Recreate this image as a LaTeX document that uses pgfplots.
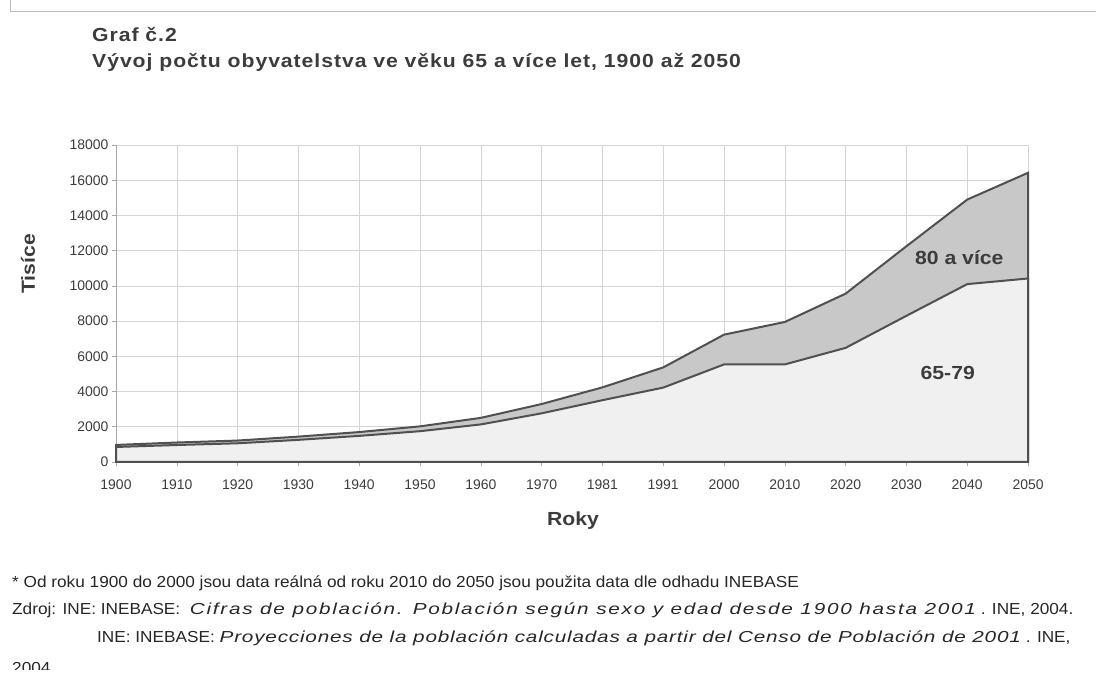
\documentclass[border=0pt]{standalone}
\usepackage{fontspec}
\setmainfont{Liberation Sans}
\newfontfamily\titlefont[FakeStretch=1.12,LetterSpace=5]{Liberation Sans Bold}
\newfontfamily\labfont[FakeStretch=1.12]{Liberation Sans Bold}
\newfontfamily\footfont[FakeStretch=1.08]{Liberation Sans}
\newfontfamily\footit[FakeStretch=1.3,LetterSpace=11]{Liberation Sans Italic}
\newfontfamily\footitb[FakeStretch=1.3,LetterSpace=5]{Liberation Sans Italic}
\usepackage{pgfplots}
\pgfplotsset{compat=1.18}
\definecolor{txtgray}{RGB}{60,60,60}
\definecolor{linegray}{RGB}{80,80,80}
\definecolor{bandgray}{RGB}{200,200,200}
\definecolor{lightfill}{RGB}{240,240,240}
\definecolor{gridgray}{RGB}{212,212,212}
\definecolor{framegray}{RGB}{190,190,190}

% 65+ total and 65-79 (thousands); x = category index
\pgfplotstableread{
x  total  young
0  968    853
1  1106   964
2  1217   1062
3  1441   1258
4  1700   1483
5  2023   1749
6  2505   2133
7  3291   2763
8  4237   3508
9  5370   4223
10 7230   5540
11 7950   5540
12 9560   6480
13 12250  8300
14 14900  10100
15 16420  10420
}\popdata

\begin{document}
\begin{tikzpicture}[x=1bp,y=1bp]
\useasboundingbox (0,0) rectangle (1096,694);
% frame
\draw[framegray,line width=1bp] (10,694) -- (10,682) -- (1096,682);

% titles
\node[anchor=west,inner sep=0pt,text=txtgray,font=\titlefont\fontsize{19}{19}\selectfont] at (92,694-35) {Graf č.2};
\node[anchor=west,inner sep=0pt,text=txtgray,font=\titlefont\fontsize{19}{19}\selectfont] at (92,694-62) {Vývoj počtu obyvatelstva ve věku 65 a více let, 1900 až 2050};

\begin{axis}[
  at={(116bp,232bp)}, anchor=south west,
  width=912bp, height=317bp, scale only axis,
  xmin=0, xmax=15, ymin=0, ymax=18000,
  xtick={0,...,15},
  xticklabels={1900,1910,1920,1930,1940,1950,1960,1970,1981,1991,2000,2010,2020,2030,2040,2050},
  ytick={0,2000,...,18000},
  scaled y ticks=false,
  yticklabel style={/pgf/number format/.cd,1000 sep={},assume math mode=true},
  xticklabel style={yshift=-10bp},
  tick label style={font=\fontsize{14}{14}\selectfont, text=txtgray},
  axis lines*=left,
  x axis line style={draw=linegray,line width=1.5bp},
  y axis line style={draw=gray!70,line width=0.8bp},
  tick style={draw=gray!70,line width=0.6bp},
  tick align=outside, major tick length=4bp,
  grid=major,
  major grid style={draw=gridgray,line width=0.6bp},
  clip=false,
]
\addplot[draw=linegray,line width=2bp,fill=bandgray] table[x=x,y=total]{\popdata} \closedcycle;
\addplot[draw=linegray,line width=2bp,fill=lightfill] table[x=x,y=young]{\popdata} \closedcycle;
\node[font=\labfont\fontsize{19}{19}\selectfont,text=txtgray] at (axis cs:13.87,11584) {80 a více};
\node[font=\labfont\fontsize{19}{19}\selectfont,text=txtgray] at (axis cs:13.68,5054) {65-79};
\end{axis}

% axis titles
\node[rotate=90,font=\labfont\fontsize{19}{19}\selectfont,text=txtgray] at (28,694-264) {Tisíce};
\node[font=\labfont\fontsize{19}{19}\selectfont,text=txtgray] at (573,694-521) {Roky};

% footnotes
\begin{scope}
\clip (0,694-670) rectangle (1096,694);
\begin{scope}[every node/.style={anchor=west,inner sep=0pt,font=\footfont\fontsize{16}{16}\selectfont,text=black!85}]
\node at (12,694-583) {* Od roku 1900 do 2000 jsou data reálná od roku 2010 do 2050 jsou použita data dle odhadu INEBASE};
\node at (12,694-610) {Zdroj: INE: INEBASE:\ \ {\footit Cifras de población. Población según sexo y edad desde 1900 hasta 2001} . INE, 2004.};
\node at (97,694-638) {INE: INEBASE: {\footitb Proyecciones de la población calculadas a partir del Censo de Población de 2001} . INE,};
\node at (12,694-668) {2004};
\end{scope}
\end{scope}
\end{tikzpicture}
\end{document}
